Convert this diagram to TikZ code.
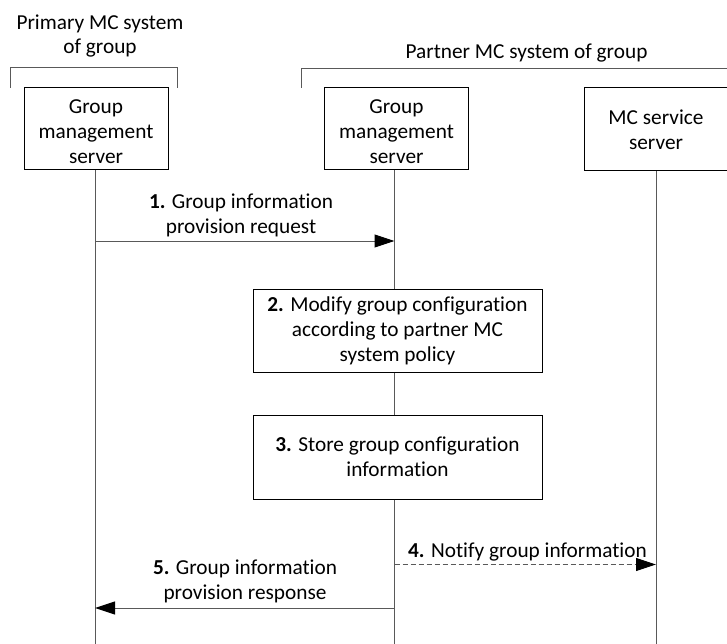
\documentclass[tikz,border=0pt]{standalone}
\usepackage{fontspec}
\setmainfont{Carlito}[Ligatures={NoCommon,NoContextual}]
\usetikzlibrary{arrows.meta}
\begin{document}
\begin{tikzpicture}[x=1pt,y=-1pt,
  font=\fontsize{21.3}{25}\selectfont,
  entity/.style={draw=black,line width=1pt,align=center,inner sep=0pt,minimum width=144pt,minimum height=82pt},
  stepbox/.style={draw=black,line width=1pt,align=center,inner sep=0pt,minimum width=289pt,minimum height=83pt},
  lbl/.style={align=center,inner sep=0pt},
  life/.style={draw=black!65,line width=1pt},
  grp/.style={draw=black!65,line width=1pt},
  msg/.style={draw=black!65,line width=1pt,-{Triangle[length=20pt,width=13pt,color=black]}},
  dmsg/.style={msg,dash pattern=on 5pt off 3pt}]
\useasboundingbox (0,0) rectangle (727,644);

% group headings
\node[lbl,anchor=base] (h1a) at (100,30) {Primary MC system};
\node[lbl,anchor=base] (h1b) at (100,54) {of group};
\node[lbl,anchor=base] (h2) at (526.5,59) {Partner MC system of group};
\draw[grp] (10,88) -- (10,68) -- (177,68) -- (177,88);
\draw[grp] (301,88) -- (301,69) -- (728,69);

% entities
\node[entity] (pgm) at (96,129) {\rule{0pt}{19pt}Group\\management\\server};
\node[entity] (gm) at (396.5,129) {\rule{0pt}{19pt}Group\\management\\server};
\node[entity,minimum height=83pt] (mcs) at (656,129.5) {MC service\\server};

% steps
\node[stepbox] (s2) at (397.5,330.5) {\textbf{2.} Modify group configuration\\according to partner MC\\system policy};
\node[stepbox,minimum height=84pt] (s3) at (397.5,457) {\textbf{3.} Store group configuration\\information};

% lifeline ends
\coordinate (pbot) at (95,644);
\coordinate (gbot) at (394.5,644);
\coordinate (mbot) at (656,644);

\draw[life] (pgm.south -| pbot) -- (pbot);
\draw[life] (gm.south -| gbot) -- (s2.north -| gbot);
\draw[life] (s2.south -| gbot) -- (s3.north -| gbot);
\draw[life] (s3.south -| gbot) -- (gbot);
\draw[life] (mcs.south -| mbot) -- (mbot);

% message end points
\coordinate (m1a) at (95,241);
\coordinate (m1b) at (394.5,241);
\coordinate (m4a) at (394.5,564.5);
\coordinate (m4b) at (656,564.5);
\coordinate (m5a) at (394.5,608);
\coordinate (m5b) at (95,608);

\draw[msg] (m1a) -- (m1b);
\draw[dmsg] (m4a) -- (m4b);
\draw[msg] (m5a) -- (m5b);

\node[lbl] (l1) at (241,215) {\textbf{1.} Group information\\provision request};
\node[lbl,anchor=base] (l4) at (527.5,557) {\textbf{4.} Notify group information};
\node[lbl] (l5) at (245,581) {\textbf{5.} Group information\\provision response};
\end{tikzpicture}
\end{document}
